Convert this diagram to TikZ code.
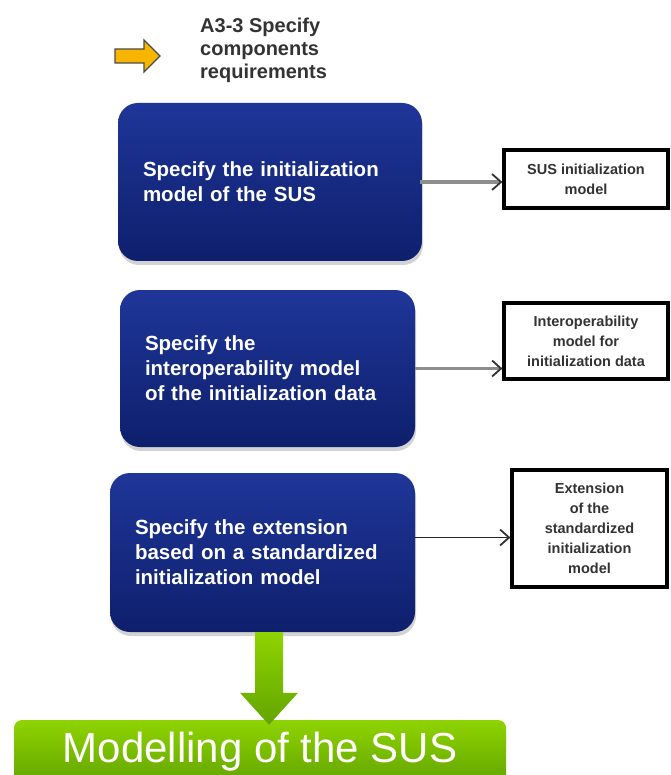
\documentclass[tikz,border=0pt]{standalone}
\usepackage{fontspec}
\setmainfont{Liberation Sans}
\usetikzlibrary{arrows.meta, positioning, shadows, calc}
\definecolor{susBlueTop}{HTML}{1F3699}
\definecolor{susBlueBot}{HTML}{0E1F6C}
\definecolor{susGreenTop}{HTML}{8FD400}
\definecolor{susGreenBot}{HTML}{62A400}
\definecolor{susYellow}{HTML}{F7B500}
\definecolor{susText}{HTML}{333333}
\definecolor{susGray}{HTML}{8E8E8E}
\tikzset{
  tipK/.tip={Straight Barb[length=9pt, width=16pt, line width=1.8pt, color=black!80]},
  arrowG/.style={-tipK, color=susGray, line width=3.5pt},
  arrowT/.style={-tipK, color=susGray, line width=2.2pt},
  arrowK/.style={-tipK, color=black!85, line width=1.8pt},
  boxSpec/.style={rectangle, rounded corners=20pt, top color=susBlueTop,
                  bottom color=susBlueBot, text=white, align=left,
                  font=\bfseries\fontsize{20.5}{25}\selectfont, inner xsep=25pt,
                  drop shadow={shadow xshift=1pt, shadow yshift=-4pt, opacity=0.35}},
  boxOut/.style={rectangle, draw=black, line width=3.2pt, fill=white,
                 align=center, text=susText, inner sep=2pt,
                 font=\bfseries\fontsize{14.5}{20}\selectfont,
                 drop shadow={shadow xshift=1pt, shadow yshift=-2pt, opacity=0.3}},
  boxModel/.style={rectangle, rounded corners=8pt, top color=susGreenTop,
                   bottom color=susGreenBot, text=white,
                   font=\fontsize{42}{42}\selectfont,
                   drop shadow={shadow xshift=0pt, shadow yshift=-2pt, opacity=0.25}},
}

\begin{document}
\begin{tikzpicture}[x=1pt, y=-1pt]
    \useasboundingbox (0,0) rectangle (670,775);
    % yellow pointer and activity title
    \draw[fill=susYellow, draw=black!70, line width=1.2pt, line join=miter]
      (115,49) -- (144,49) -- (144,40) -- (160,56) -- (144,72) -- (144,63)
      -- (115,63) -- cycle;
    \node[anchor=north west, inner sep=0pt, align=left, text=susText,
          font=\bfseries\fontsize{20}{23}\selectfont] (title) at (200,18)
      {A3-3 Specify\\components\\requirements};
    % specification steps
    \node[boxSpec, text width=254pt, minimum height=158pt] (spec1) at (270,182)
      {Specify the initialization\\model of the SUS};
    \node[boxSpec, text width=245pt, minimum height=157pt] (spec2) at (267.5,368.5)
      {Specify the\\interoperability model\\of the initialization data};
    \node[boxSpec, text width=255pt, minimum height=159pt] (spec3) at (262.5,552.5)
      {Specify the extension\\based on a standardized\\initialization model};
    % outputs
    \node[boxOut, minimum width=164pt, minimum height=58pt] (out1) at (586,179)
      {SUS initialization\\model};
    \node[boxOut, minimum width=164pt, minimum height=76pt] (out2) at (586,341)
      {Interoperability\\model for\\initialization data};
    \node[boxOut, minimum width=155pt, minimum height=117pt] (out3) at (589.5,528.5)
      {Extension\\of the\\standardized\\initialization\\model};
    \draw[arrowG] ([xshift=-2pt]spec1.east) -- (spec1.east -| out1.west);
    \draw[arrowT] (spec2.east) -- (spec2.east -| out2.west);
    \draw[arrowK] ([yshift=15pt]spec3.east) -- ([yshift=15pt]spec3.east -| out3.west);
    % result
    \node[boxModel, minimum width=492pt, minimum height=64pt] (model) at (260,752)
      {Modelling of the SUS};
    \coordinate (gtop) at ($(spec3.south)+(6.5,0)$);
    \coordinate (gtip) at ($(gtop |- model.north)+(0,5)$);
    \shade[top color=susGreenTop, bottom color=susGreenBot]
      ($(gtop)+(-14,0)$) -- ($(gtop)+(14,0)$) -- ($(gtip)+(14,-32)$)
      -- ($(gtip)+(29,-32)$) -- (gtip) -- ($(gtip)+(-29,-32)$)
      -- ($(gtip)+(-14,-32)$) -- cycle;
\end{tikzpicture}
\end{document}
